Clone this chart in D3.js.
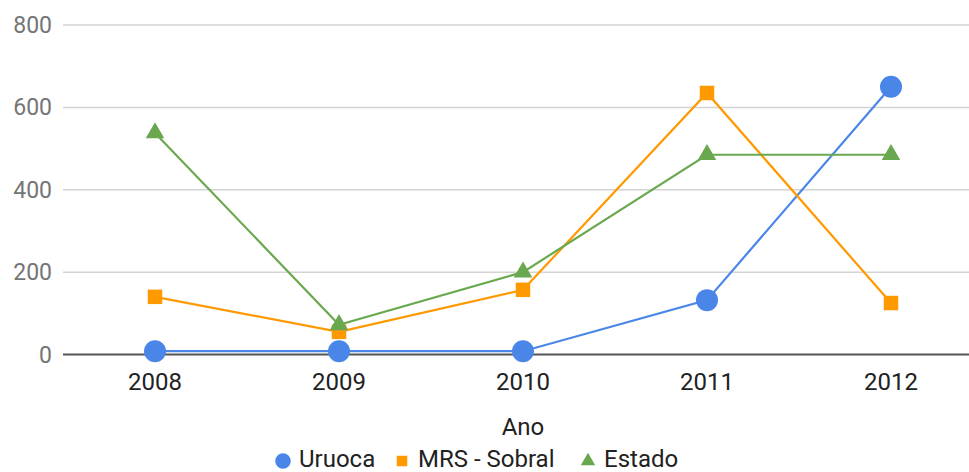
<!DOCTYPE html>
<html>
<head>
<meta charset="utf-8">
<script src="https://cdn.jsdelivr.net/npm/d3@7"></script>
<style>
  body { margin: 0; background: #fff; }
  text { font-family: Roboto, "Noto Sans", sans-serif; }
</style>
</head>
<body>
<div id="chart"></div>
<script>
const years = ["2008", "2009", "2010", "2011", "2012"];
const uruoca = [8, 8, 8, 132, 650];
const sobral = [140, 55, 157, 635, 125];
const estado = [538, 72, 200, 485, 485];
const yTicks = [0, 200, 400, 600, 800];

const width = 969;
const height = 472;

const series = [
  { name: "Uruoca", values: uruoca, color: "#4a86e8", shape: d3.symbolCircle, size: 380 },
  { name: "MRS - Sobral", values: sobral, color: "#ff9900", shape: d3.symbolSquare, size: 210 },
  { name: "Estado", values: estado, color: "#6aa84f", shape: d3.symbolTriangle, size: 150 }
];

const svg = d3.select("#chart").append("svg").attr("width", width).attr("height", height);

const x = d3.scalePoint().domain(years).range([155, 891]);
const y = d3.scaleLinear().domain([0, 800]).range([354.5, 25]);

// gridlines
svg
  .append("g")
  .selectAll("line")
  .data(yTicks.filter((d) => d > 0))
  .enter()
  .append("line")
  .attr("x1", 63)
  .attr("x2", width)
  .attr("y1", (d) => y(d))
  .attr("y2", (d) => y(d))
  .attr("stroke", "#d4d4d4")
  .attr("stroke-width", 1.5);

// y labels
svg
  .append("g")
  .selectAll("text")
  .data(yTicks)
  .enter()
  .append("text")
  .attr("x", 52)
  .attr("y", (d) => y(d) + 8)
  .attr("text-anchor", "end")
  .attr("font-size", 23)
  .attr("fill", "#757575")
  .text((d) => d);

// lines
series.forEach((s) => {
  const line = d3
    .line()
    .x((d, i) => x(years[i]))
    .y((d) => y(d));

  svg
    .append("path")
    .datum(s.values)
    .attr("d", line)
    .attr("fill", "none")
    .attr("stroke", s.color)
    .attr("stroke-width", 2.2);
});

// baseline
svg
  .append("line")
  .attr("x1", 63)
  .attr("x2", width)
  .attr("y1", y(0))
  .attr("y2", y(0))
  .attr("stroke", "#555")
  .attr("stroke-width", 2);

// markers
series.forEach((s) => {
  svg
    .append("g")
    .selectAll("path")
    .data(s.values)
    .enter()
    .append("path")
    .attr("d", d3.symbol().type(s.shape).size(s.size))
    .attr("transform", (d, i) => `translate(${x(years[i])},${y(d)})`)
    .attr("fill", s.color);
});

// x labels
svg
  .append("g")
  .selectAll("text")
  .data(years)
  .enter()
  .append("text")
  .attr("x", (d) => x(d))
  .attr("y", 390)
  .attr("text-anchor", "middle")
  .attr("font-size", 24)
  .attr("fill", "#222")
  .text((d) => d);

// axis title
svg
  .append("text")
  .attr("x", 523)
  .attr("y", 435)
  .attr("text-anchor", "middle")
  .attr("font-size", 24)
  .attr("fill", "#222")
  .text("Ano");

// legend
const legendX = [283, 402, 588];
const legendSizes = [190, 110, 90];
series.forEach((s, i) => {
  svg
    .append("path")
    .attr("d", d3.symbol().type(s.shape).size(legendSizes[i]))
    .attr("transform", `translate(${legendX[i]},${461})`)
    .attr("fill", s.color);
  svg
    .append("text")
    .attr("x", legendX[i] + 16)
    .attr("y", 467)
    .attr("font-size", 24)
    .attr("fill", "#222")
    .text(s.name);
});
</script>
</body>
</html>
